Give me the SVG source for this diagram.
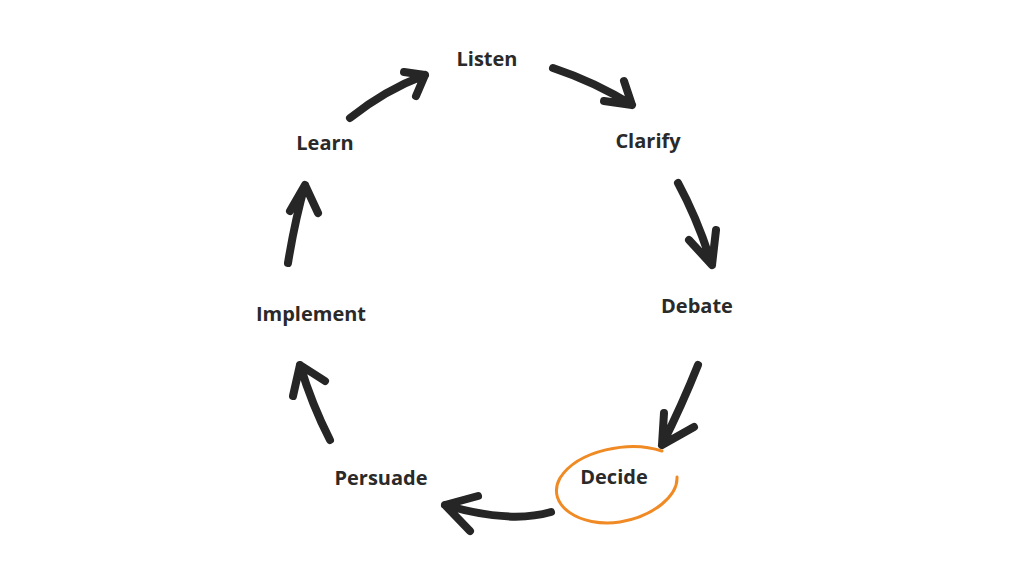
<svg xmlns="http://www.w3.org/2000/svg" width="1024" height="576" viewBox="0 0 1024 576">
<style>
text{font-family:"Open Sans","DejaVu Sans",sans-serif;font-weight:bold;font-size:20px;fill:#2a2a2a;text-anchor:middle;dominant-baseline:middle}
.a{fill:none;stroke:#262626;stroke-width:8;stroke-linecap:round;stroke-linejoin:round}
</style>
<rect width="1024" height="576" fill="#fff"/>
<g id="connectors">
<path class="a" d="M350,118 Q385,90 425,75 M404,72 L425,75 L416,96"/>
<path class="a" d="M553,68 Q595,82 632,105 M604,101 L632,105 L624,81"/>
<path class="a" d="M678,183 Q698,220 712,265 M689,240 L712,265 L716,230"/>
<path class="a" d="M698,365 Q682,405 662,445 M664,413 L662,445 L694,427"/>
<path class="a" d="M551,512 Q510,524 445,505 M478,496 L445,505 L470,531"/>
<path class="a" d="M330,440 Q312,405 300,365 M293,396 L300,365 L325,381"/>
<path class="a" d="M288,263 Q295,220 305,185 M290,211 L305,185 L318,213"/>
</g>
<g id="listen"><text x="487" y="61">Listen</text></g>
<g id="clarify"><text x="648" y="143">Clarify</text></g>
<g id="debate"><text x="697" y="308">Debate</text></g>
<g id="decide"><path d="M662,451 C630,440 578,450 560,478 C545,505 580,528 620,522 C655,516 678,495 677,477" fill="none" stroke="#f08a24" stroke-width="3" stroke-linecap="round"/><text x="614" y="479">Decide</text></g>
<g id="persuade"><text x="381" y="480">Persuade</text></g>
<g id="implement"><text x="311" y="316">Implement</text></g>
<g id="learn"><text x="325" y="145">Learn</text></g>
</svg>
